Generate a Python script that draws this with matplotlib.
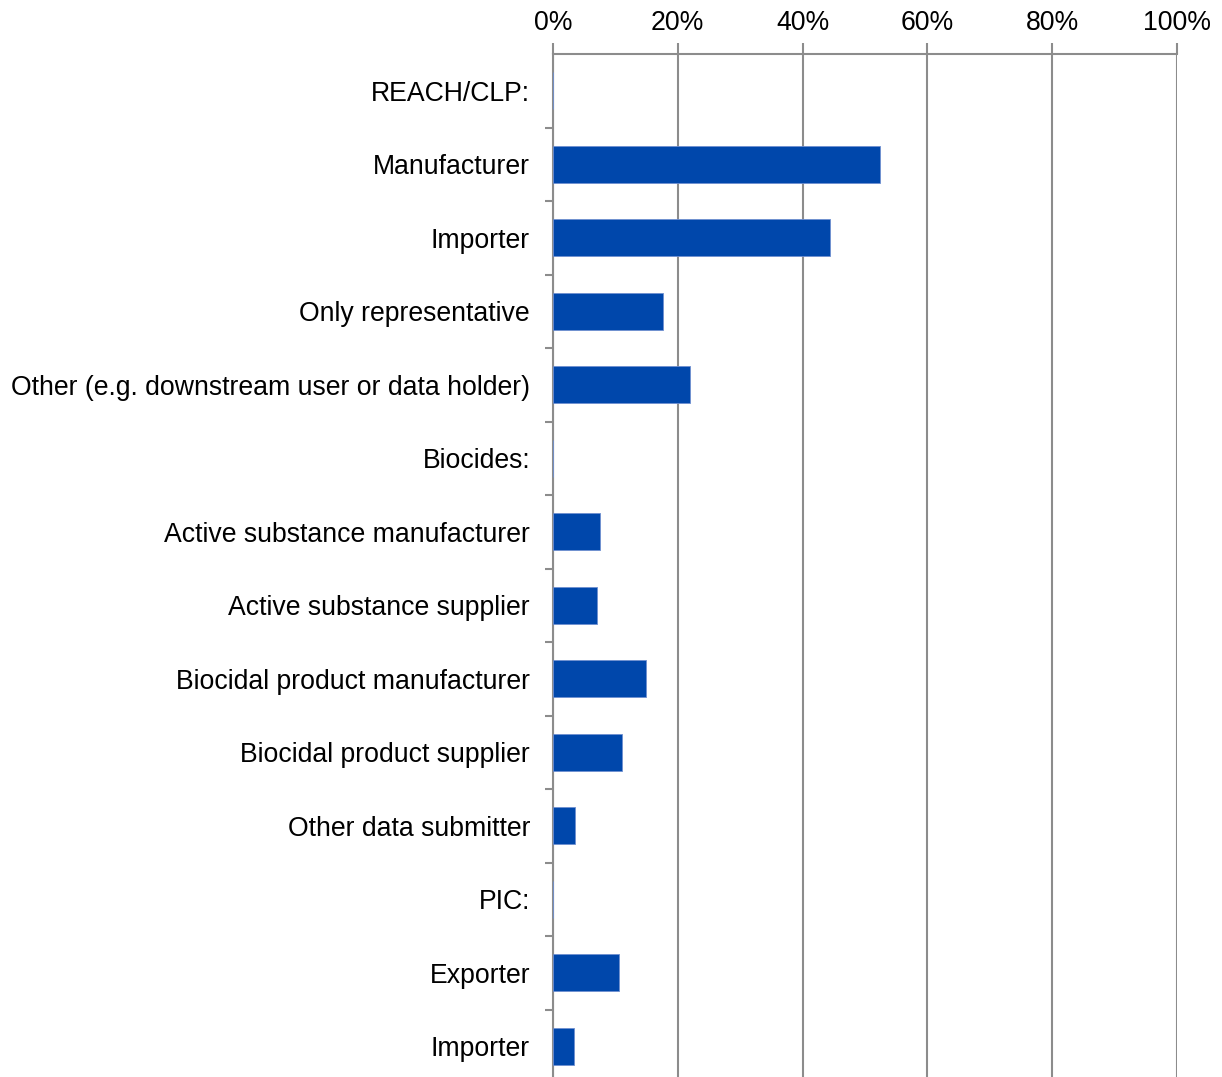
import matplotlib.pyplot as plt
import numpy as np
from matplotlib.ticker import FixedLocator, PercentFormatter

plt.rcParams["font.family"] = ["Liberation Sans", "DejaVu Sans"]

categories = [
    "REACH/CLP:",
    "Manufacturer",
    "Importer",
    "Only representative",
    "Other (e.g. downstream user or data holder)",
    "Biocides:",
    "Active substance manufacturer",
    "Active substance supplier",
    "Biocidal product manufacturer",
    "Biocidal product supplier",
    "Other data submitter",
    "PIC:",
    "Exporter",
    "Importer",
]
values = [0, 52.4, 44.4, 17.6, 22.0, 0, 7.5, 7.0, 14.9, 11.1, 3.5, 0, 10.6, 3.4]
x_ticks = [0, 20, 40, 60, 80, 100]

grid_color = "#8c8c8c"
bar_color = "#0047ab"

fig = plt.figure(figsize=(12.22, 10.77), dpi=100)
ax = fig.add_axes([553 / 1222, -6 / 1077, 624 / 1222, 1029 / 1077])

y = np.arange(len(categories))
ax.barh(y, values, height=0.5, color=bar_color, edgecolor="#6f8fd0", linewidth=0.6, zorder=3)

ax.set_xlim(0, 100)
ax.set_ylim(len(categories) - 0.5, -0.5)

ax.xaxis.tick_top()
ax.set_xticks(x_ticks)
ax.xaxis.set_major_formatter(PercentFormatter(decimals=0))
ax.tick_params(axis="x", which="major", length=8, width=1.5, color=grid_color,
               labelsize=19.2, pad=5)

ax.set_yticks(y)
ax.set_yticklabels(categories)
ax.yaxis.set_minor_locator(FixedLocator(np.arange(0.5, len(categories) - 0.5, 1.0)))
ax.tick_params(axis="y", which="major", length=0, labelsize=19.2, pad=16.5)
ax.tick_params(axis="y", which="minor", length=6, width=1.5, color=grid_color)

ax.grid(axis="x", color=grid_color, linewidth=1.5, zorder=0)
ax.set_axisbelow(True)

for side in ["right", "bottom"]:
    ax.spines[side].set_visible(False)
for side in ["left", "top"]:
    ax.spines[side].set_color(grid_color)
    ax.spines[side].set_linewidth(1.5)

fig.savefig("out.png", dpi=100)
